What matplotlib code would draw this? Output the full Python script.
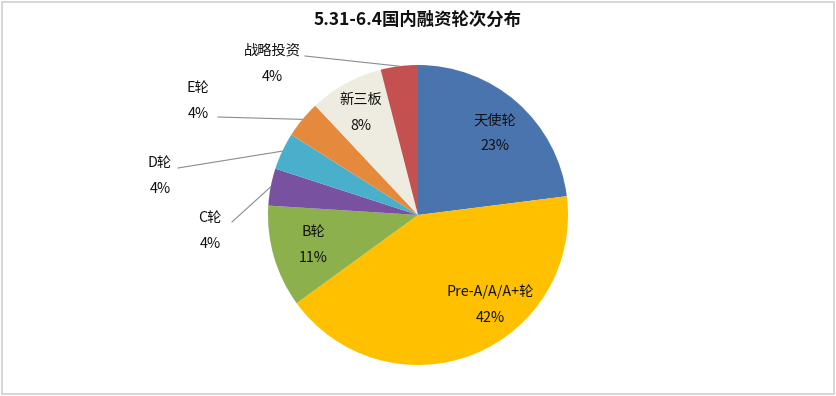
import numpy as np
import matplotlib.pyplot as plt
from matplotlib.patches import Rectangle

plt.rcParams['font.family'] = ['Noto Sans CJK SC', 'DejaVu Sans']

# datos (sentido horario desde arriba)
etiquetas = ['天使轮', 'Pre-A/A/A+轮', 'B轮', 'C轮', 'D轮', 'E轮', '新三板', '战略投资']
valores = [23, 42, 11, 4, 4, 4, 8, 4]
colores = ['#4A74AE', '#FFC000', '#8CB04C', '#7852A0', '#4AAFCB', '#E58A3C', '#EEECE1', '#C55050']

W, H = 836, 396
cx, cy, R = 418, 215, 150

# posiciones de etiquetas en pixeles (x, y desde arriba)
pos_etiq = [(495, 120), (490, 292), (313, 232), (210, 218),
            (160, 163), (198, 88), (361, 100), (272, 51)]
# inicio de la linea guia (None = sin linea)
pos_linea = [None, None, None, (232, 222), (178, 168), (218, 117), None, (305, 56)]

fig = plt.figure(figsize=(W / 100, H / 100), dpi=100)
ax = fig.add_axes([0, 0, 1, 1])

wedges, _ = ax.pie(valores, colors=colores, startangle=90, counterclock=False,
                   center=(cx, H - cy), radius=R, frame=True,
                   wedgeprops=dict(linewidth=0))
ax.set_xlim(0, W)
ax.set_ylim(0, H)
ax.set_aspect('equal')
ax.axis('off')

for i, w in enumerate(wedges):
    x, y = pos_etiq[i]
    ax.text(x, H - y, etiquetas[i], ha='center', va='center', fontsize=10.3, color='#111111')
    ax.text(x, H - y - 26, f'{valores[i]}%', ha='center', va='center', fontsize=10.3, color='#111111')
    if pos_linea[i] is not None:
        ang = np.deg2rad((w.theta1 + w.theta2) / 2)
        ex = w.center[0] + w.r * np.cos(ang)
        ey = w.center[1] + w.r * np.sin(ang)
        lx, ly = pos_linea[i]
        ax.plot([lx, ex], [H - ly, ey], color='#8c8c8c', linewidth=0.8)

ax.text(W / 2, H - 20, '5.31-6.4国内融资轮次分布', ha='center', va='center',
        fontsize=12.5, fontweight='bold', color='#111111')

fig.patches.append(Rectangle((2 / W, 2 / H), 1 - 4 / W, 1 - 4 / H, transform=fig.transFigure,
                             fill=False, edgecolor='#d0d0d0', linewidth=1.2))

fig.savefig('out.png', dpi=100)
